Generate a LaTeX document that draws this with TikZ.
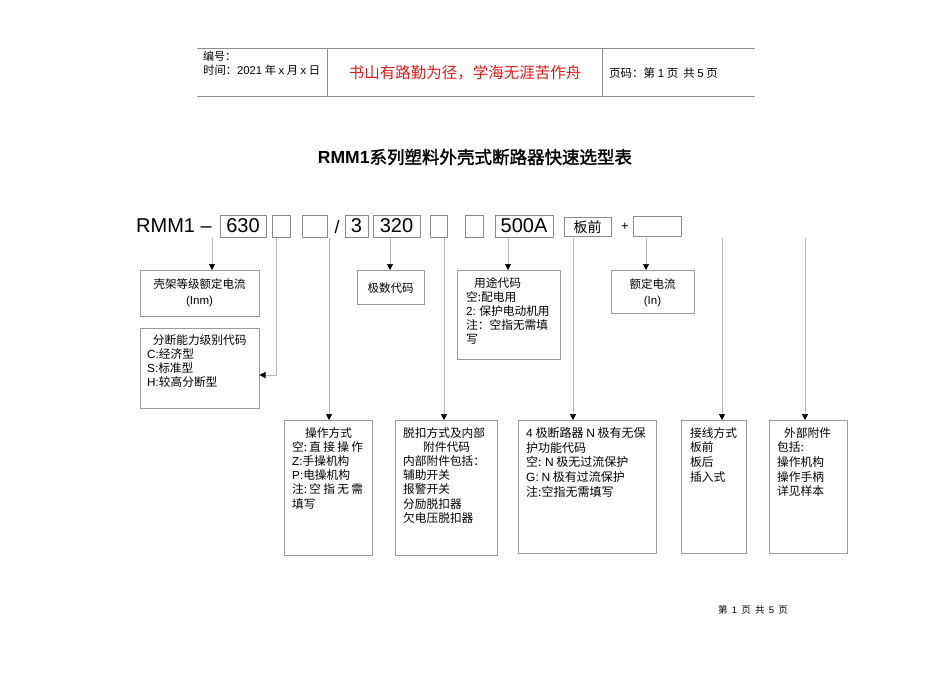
\documentclass[tikz,border=0pt]{standalone}
\usepackage{fontspec}
\setmainfont{Noto Sans CJK SC}
\newfontfamily\lat{Liberation Sans}
\newfontfamily\titlecjk{Noto Sans CJK SC}[FakeBold=1.6]
\usetikzlibrary{arrows.meta}
\definecolor{boxgray}{HTML}{9A9A9A}
\definecolor{codegray}{HTML}{8A8A8A}
\definecolor{linegray}{HTML}{B8B8B8}
\definecolor{hdrgray}{HTML}{8C8C8C}
\definecolor{hdrred}{HTML}{E31B1B}
\tikzset{
  box/.style={draw=boxgray, line width=0.7pt, inner sep=0pt, anchor=north west},
  codebox/.style={draw=codegray, line width=0.8pt, inner sep=0pt, minimum height=22pt, font=\lat\fontsize{20}{24}\selectfont},
  conn/.style={draw=linegray, line width=0.7pt, -{Triangle[length=6pt,width=6pt,color=black]}},
  hdrline/.style={draw=hdrgray, line width=0.9pt},
  txt/.style={inner sep=0pt, anchor=north west, align=left, font=\fontsize{11.7}{14.2}\selectfont},
  ctxt/.style={inner sep=0pt, align=center, font=\fontsize{11.5}{16}\selectfont},
}
\begin{document}
\begin{tikzpicture}[x=1pt,y=-1pt]
\useasboundingbox[fill=white] (0,0) rectangle (950,672);
% header
\draw[hdrline] (197,48) -- (755,48);
\draw[hdrline] (197,96) -- (755,96);
\draw[hdrline] (327,48) -- (327,96);
\draw[hdrline] (602,48) -- (602,96);
\node[anchor=west, inner sep=0pt, font=\fontsize{11}{13}\selectfont] (bh) at (203,56) {编号：};
\node[anchor=west, inner sep=0pt, font=\fontsize{11.3}{13}\selectfont] (sj) at (203,70) {时间：{\lat 2021} 年 {\lat x} 月 {\lat x} 日};
\node[inner sep=0pt, text=hdrred, font=\fontsize{15.5}{18}\selectfont] (motto) at (465,73) {书山有路勤为径，学海无涯苦作舟};
\node[anchor=west, inner sep=0pt, font=\fontsize{11.5}{13}\selectfont] (ym) at (609,73) {页码：第 {\lat 1} 页\ \ 共 {\lat 5} 页};
% title
\node[inner sep=0pt, font=\fontsize{17.5}{21}\selectfont] (title) at (475,157) {{\lat\bfseries RMM1}\titlecjk 系列塑料外壳式断路器快速选型表};
% code row
\node[anchor=west, inner sep=0pt, font=\lat\fontsize{20}{24}\selectfont] (rmm) at (136,226) {RMM1 –};
\node[codebox, minimum width=46pt] (c630) at (243,226) {630};
\node[codebox, minimum width=18pt] (e1) at (281,226) {};
\node[codebox, minimum width=25pt] (e2) at (314.5,226) {};
\node[inner sep=0pt, font=\lat\fontsize{18}{22}\selectfont] (slash) at (337,227) {/};
\node[codebox, minimum width=23pt] (c3) at (356.5,226) {3};
\node[codebox, minimum width=47pt] (c320) at (396.5,226) {320};
\node[codebox, minimum width=17pt] (e3) at (438.5,226) {};
\node[codebox, minimum width=18pt] (e4) at (474,226) {};
\node[codebox, minimum width=58pt] (c500) at (524,226) {500A};
\node[codebox, minimum width=47pt, minimum height=19pt, font=\fontsize{14}{16}\selectfont] (cbq) at (587.5,227) {板前};
\node[inner sep=0pt, font=\lat\fontsize{13}{15}\selectfont] (plus) at (625,227) {+};
\node[codebox, minimum width=48pt, minimum height=20pt] (e5) at (657,226) {};
% boxes
\node[box, minimum width=119pt, minimum height=46pt] (kj) at (140,270) {};
\node[box, minimum width=119pt, minimum height=80pt] (fd) at (140,328) {};
\node[box, minimum width=67pt, minimum height=34pt] (js) at (357,270) {};
\node[box, minimum width=103pt, minimum height=89pt] (yt) at (457,270) {};
\node[box, minimum width=83pt, minimum height=43pt] (ed) at (611,270) {};
\node[box, minimum width=88pt, minimum height=135pt] (cz) at (284,420) {};
\node[box, minimum width=102pt, minimum height=135pt] (tk) at (395,420) {};
\node[box, minimum width=138pt, minimum height=133pt] (n4) at (518,420) {};
\node[box, minimum width=65pt, minimum height=133pt] (jx) at (681,420) {};
\node[box, minimum width=78pt, minimum height=133pt] (wb) at (769,420) {};
% box texts
\node[ctxt] (kjt) at (199.5,293) {壳架等级额定电流\\{\lat (Inm)}};
\node[txt, text width=105pt] (fdt) at (147,334) {\makebox[\linewidth]{分断能力级别代码}\\{\lat C:}经济型\\{\lat S:}标准型\\{\lat H:}较高分断型};
\node[ctxt] (jst) at (390.5,288) {极数代码};
\node[txt] (ytt) at (466,277) {\hspace*{8pt}用途代码\\空:配电用\\{\lat 2:} 保护电动机用\\注：空指无需填\\写};
\node[ctxt] (edt) at (652.5,293) {额定电流\\{\lat (In)}};
\node[txt] (czt) at (292,427) {\hspace*{13pt}操作方式\\\makebox[71pt][s]{空:\hfill 直\hfill 接\hfill 操\hfill 作}\\{\lat Z:}手操机构\\{\lat P:}电操机构\\\makebox[71pt][s]{注:\hfill 空\hfill 指\hfill 无\hfill 需}\\填写};
\node[txt] (tkt) at (403,427) {脱扣方式及内部\\\hspace*{20pt}附件代码\\内部附件包括：\\辅助开关\\报警开关\\分励脱扣器\\欠电压脱扣器};
\node[txt, font=\fontsize{12}{14.8}\selectfont] (n4t) at (526,427) {{\lat 4} 极断路器 {\lat N} 极有无保\\护功能代码\\空: {\lat N} 极无过流保护\\{\lat G:} {\lat N} 极有过流保护\\注:空指无需填写};
\node[txt, font=\fontsize{11.7}{14.7}\selectfont] (jxt) at (690,427) {接线方式\\板前\\板后\\插入式};
\node[txt, font=\fontsize{11.7}{14.7}\selectfont] (wbt) at (777,427) {\hspace*{7pt}外部附件\\包括:\\操作机构\\操作手柄\\详见样本};
% footer
\node[inner sep=0pt, font=\fontsize{9.5}{11}\selectfont] (ft) at (753,610) {第\ \ {\lat 1}\ \ 页\ \ 共\ \ {\lat 5}\ \ 页};
% connectors
\coordinate (s1) at (212,238);
\coordinate (s2) at (276,238);
\coordinate (s3) at (329,238);
\coordinate (s4) at (390,238);
\coordinate (s5) at (444,238);
\coordinate (s6) at (508,238);
\coordinate (s7) at (573,238);
\coordinate (s8) at (646,238);
\coordinate (s9) at (722,238);
\coordinate (s10) at (805,238);
\coordinate (t2) at (259.5,375);
\draw[conn] (s1) -- (s1 |- kj.north);
\draw[conn] (s2) |- (t2);
\draw[conn] (s3) -- (s3 |- cz.north);
\draw[conn] (s4) -- (s4 |- js.north);
\draw[conn] (s5) -- (s5 |- tk.north);
\draw[conn] (s6) -- (s6 |- yt.north);
\draw[conn] (s7) -- (s7 |- n4.north);
\draw[conn] (s8) -- (s8 |- ed.north);
\draw[conn] (s9) -- (s9 |- jx.north);
\draw[conn] (s10) -- (s10 |- wb.north);
\end{tikzpicture}
\end{document}
